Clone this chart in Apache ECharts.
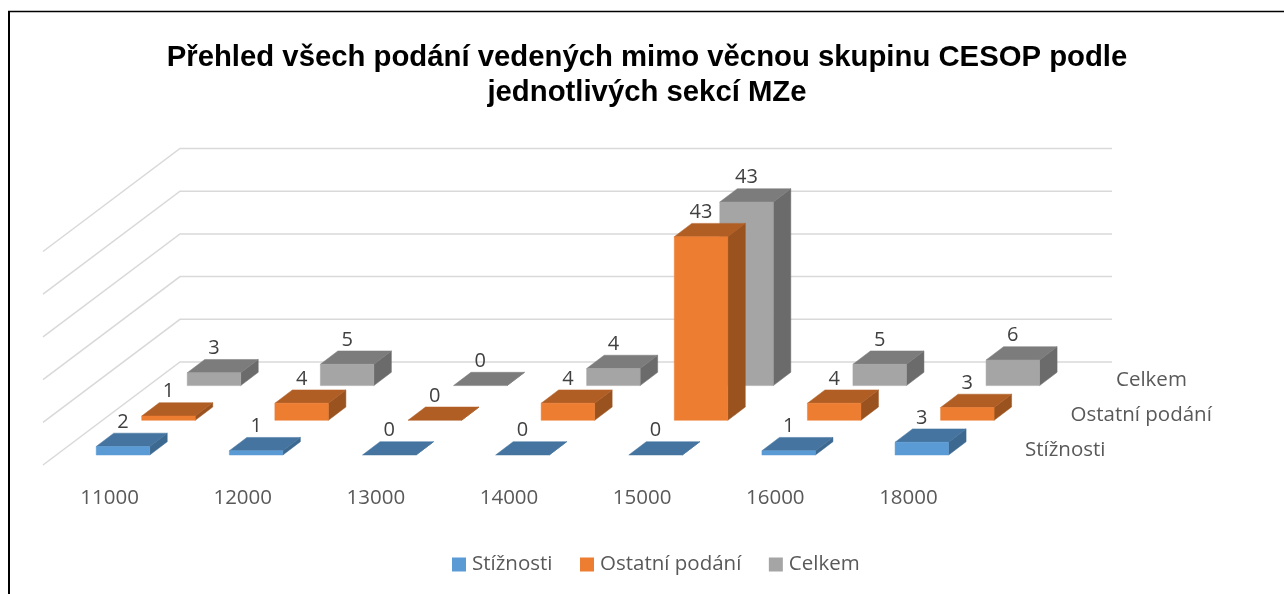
<!DOCTYPE html>
<html>
<head>
<meta charset="utf-8">
<style>html,body{margin:0;padding:0;background:#fff}#c{width:1284px;height:594px}</style>
<script src="https://cdn.jsdelivr.net/npm/echarts@6/dist/echarts.min.js"></script>
</head>
<body>
<div id="c"></div>
<script>
const categories = ['11000','12000','13000','14000','15000','16000','18000'];
const stiznosti = [2,1,0,0,0,1,3];
const ostatni = [1,4,0,4,43,4,3];
const celkem = [3,5,0,4,43,5,6];
const gridTicks = [0,10,20,30,40,50];
const seriesNames = ['Stížnosti','Ostatní podání','Celkem'];

const FONT = '"Open Sans", sans-serif';
const palette = [
  {front:'#5B9BD5', top:'#44749F', side:'#3D688F'},
  {front:'#ED7D31', top:'#B15E25', side:'#9A521F'},
  {front:'#A5A5A5', top:'#7C7C7C', side:'#6B6B6B'}
];
// oblique projection of the depth axis
const rowDx = 45.5, rowDy = -34.7, startDx = 13.4, startDy = -10;
const boxDx = 17.5, boxDy = -13.3, wallDx = 137, wallDy = -103;
const barW = 53.5;

function barRenderer(row) {
  const c = palette[row];
  return function (params, api) {
    const base = api.coord([api.value(0), 0]);
    const top = api.coord([api.value(0), api.value(1)]);
    const ox = startDx + row * rowDx, oy = startDy + row * rowDy;
    const l = base[0] + ox - barW / 2, r = l + barW;
    const yb = base[1] + oy, yt = top[1] + oy;
    const kids = [];
    const poly = (points, fill) => kids.push({type:'polygon', shape:{points}, style:{fill, stroke:fill, lineWidth:0.5}});
    poly([[r,yb],[r+boxDx,yb+boxDy],[r+boxDx,yt+boxDy],[r,yt]], c.side);
    poly([[l,yt],[r,yt],[r+boxDx,yt+boxDy],[l+boxDx,yt+boxDy]], c.top);
    if (yb - yt > 0) poly([[l,yb],[r,yb],[r,yt],[l,yt]], c.front);
    kids.push({type:'text', style:{text:String(api.value(1)), x:(l+r)/2, y:yt+boxDy-1, align:'center', verticalAlign:'bottom', fill:'#404040', font:'20px '+FONT}});
    return {type:'group', children:kids};
  };
}

const option = {
  animation:false,
  backgroundColor:'#fff',
  title:{
    text:'Přehled všech podání vedených mimo věcnou skupinu CESOP podle\njednotlivých sekcí MZe',
    left:642, top:35, textAlign:'center',
    textStyle:{fontFamily:'"Liberation Sans", Arial, sans-serif', fontWeight:'bold', fontSize:29.3, lineHeight:35, color:'#000'}
  },
  legend:{
    left:447, top:549, icon:'rect', itemWidth:14, itemHeight:14, itemGap:27.5,
    data:seriesNames,
    textStyle:{fontFamily:FONT, fontSize:20.5, color:'#595959', padding:[0,0,0,1]}
  },
  grid:{left:43, width:932, top:251.5, height:213.5},
  xAxis:{type:'category', data:categories, axisLine:{show:false}, axisTick:{show:false},
    axisLabel:{fontFamily:FONT, fontSize:20.5, color:'#595959', margin:23}},
  yAxis:{type:'value', min:0, max:50, interval:10, show:false, splitLine:{show:false}},
  graphic:[
    {type:'line', shape:{x1:9,y1:11.5,x2:9,y2:594}, style:{stroke:'#000', lineWidth:2}},
    {type:'line', shape:{x1:8,y1:11.5,x2:1284,y2:11.5}, style:{stroke:'#000', lineWidth:1.5}}
  ],
  series:[
    {type:'custom', name:'walls', z:1, silent:true, data:gridTicks.map(t=>[0,t]),
     renderItem:function(params, api){
       const cs = params.coordSys;
       const y = api.coord([0, api.value(1)])[1];
       return {type:'polyline', shape:{points:[[cs.x,y],[cs.x+wallDx,y+wallDy],[cs.x+wallDx+cs.width,y+wallDy]]},
         style:{fill:'none', stroke:'#D9D9D9', lineWidth:1.5}};
     }},
    {type:'custom', name:'depth', z:5, silent:true, data:seriesNames.map((n,i)=>[0,i]),
     renderItem:function(params, api){
       const cs = params.coordSys;
       const i = api.value(1);
       const y0 = api.coord([0,0])[1];
       return {type:'text', style:{text:seriesNames[i], x:cs.x+cs.width+50+i*rowDx, y:y0-15+i*rowDy,
         align:'left', verticalAlign:'middle', fill:'#595959', font:'20.5px '+FONT}};
     }},
    {type:'custom', name:seriesNames[2], z:2, silent:true, itemStyle:{color:palette[2].front}, data:celkem.map((v,i)=>[i,v]), encode:{x:0,y:1}, renderItem:barRenderer(2)},
    {type:'custom', name:seriesNames[1], z:3, silent:true, itemStyle:{color:palette[1].front}, data:ostatni.map((v,i)=>[i,v]), encode:{x:0,y:1}, renderItem:barRenderer(1)},
    {type:'custom', name:seriesNames[0], z:4, silent:true, itemStyle:{color:palette[0].front}, data:stiznosti.map((v,i)=>[i,v]), encode:{x:0,y:1}, renderItem:barRenderer(0)}
  ]
};
const chart = echarts.init(document.getElementById('c'));
chart.setOption(option);
</script>
</body>
</html>
